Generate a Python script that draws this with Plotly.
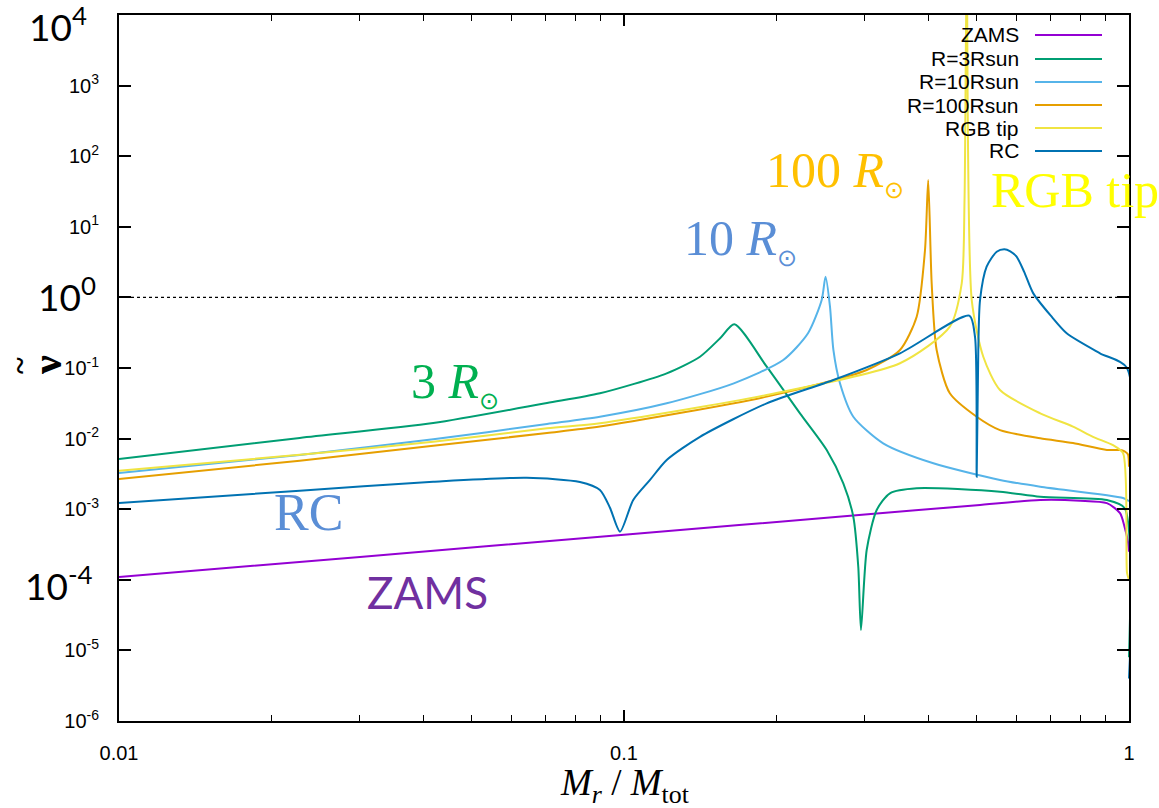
import plotly.graph_objects as go

# ---- data: dimensionless frequency nu~ versus mass coordinate M_r/M_tot ----
zams_m = [0.01, 0.03, 0.1, 0.3, 0.5, 0.667, 0.8, 0.904, 0.96, 0.98, 0.995, 1.0]
zams_nu = [1.10e-4, 2.11e-4, 4.35e-4, 8.4e-4, 1.14e-3, 1.35e-3, 1.32e-3, 1.22e-3,
           8.8e-4, 5.6e-4, 3.5e-4, 2.5e-4]

r3_m = [0.01, 0.0228, 0.0419, 0.0704, 0.0896, 0.1215, 0.1414, 0.155, 0.1654, 0.1917,
        0.2231, 0.252, 0.2718, 0.2845, 0.291, 0.2946, 0.3024, 0.3165, 0.3362, 0.3798,
        0.5553, 0.667, 0.904, 0.98, 1.0]
r3_nu = [5.14e-3, 1.02e-2, 1.66e-2, 3.19e-2, 4.38e-2, 8.41e-2, 0.1445, 0.264, 0.416, 0.1043,
         2.28e-2, 6.9e-3, 2.33e-3, 7.83e-4, 1.53e-4, 1.95e-5, 2.64e-4, 9.75e-4, 1.68e-3, 1.98e-3,
         1.77e-3, 1.50e-3, 1.35e-3, 1.04e-3, 8e-6]

r10_m = [0.01, 0.0228, 0.0419, 0.0704, 0.0896, 0.1215, 0.165, 0.2067, 0.2314, 0.2463,
         0.2507, 0.2558, 0.2598, 0.2677, 0.2845, 0.326, 0.4098, 0.5553, 0.667, 0.973, 1.0]
r10_nu = [3.26e-3, 5.86e-3, 9.77e-3, 1.61e-2, 2.04e-2, 3.16e-2, 6.07e-2, 0.1297, 0.31, 0.918,
          1.96, 0.738, 0.18, 6.07e-2, 2.04e-2, 8.57e-3, 4.47e-3, 2.6e-3, 2.08e-3, 1.44e-3, 1.3e-3]

r100_m = [0.01, 0.0228, 0.0419, 0.0704, 0.0896, 0.1917, 0.3024, 0.352, 0.3798, 0.3945,
          0.4003, 0.4067, 0.416, 0.4418, 0.4993, 0.5553, 0.667, 0.7747, 0.904, 0.96,
          0.98, 0.995, 1.0]
r100_nu = [2.68e-3, 4.86e-3, 7.94e-3, 1.2e-2, 1.48e-2, 3.93e-2, 9.38e-2, 0.18, 0.533, 4.69,
           46.0, 1.58, 0.18, 4.38e-2, 2.04e-2, 1.32e-2, 1.01e-2, 8.67e-3, 6.9e-3, 6.9e-3,
           6.6e-3, 6.0e-3, 4e-3]

tip_m = [0.01, 0.0228, 0.0419, 0.0704, 0.0896, 0.1917, 0.352, 0.4418, 0.4664, 0.4724,
         0.4772, 0.4882, 0.5146, 0.5553, 0.667, 0.7747, 0.8486, 0.9296, 0.973, 0.991, 1.0]
tip_nu = [3.5e-3, 5.9e-3, 9.0e-3, 1.4e-2, 1.65e-2, 4.15e-2, 0.1167, 0.385, 1.58, 24.0,
          5e4, 0.918, 0.1445, 4.88e-2, 2.28e-2, 1.48e-2, 1.06e-2, 8.1e-3, 6.25e-3, 1.25e-4, 1.0e-4]

rc_m = [0.01, 0.0228, 0.0419, 0.0642, 0.0818, 0.0896, 0.0938, 0.0982, 0.1043, 0.1126,
        0.1215, 0.1414, 0.1917, 0.2598, 0.352, 0.4828, 0.4955, 0.4993, 0.503, 0.507,
        0.5225, 0.547, 0.5663, 0.582, 0.599, 0.62, 0.6464, 0.7, 0.7527, 0.8762, 0.9895, 1.0]
rc_nu = [1.22e-3, 1.83e-3, 2.45e-3, 2.79e-3, 2.43e-3, 1.87e-3, 1.05e-3, 4.8e-4, 1.35e-3, 2.6e-3,
         4.98e-3, 1.06e-2, 3.16e-2, 6.76e-2, 0.1614, 0.551, 0.277, 2.88e-3, 0.18, 0.918,
         2.72, 4.43, 4.8, 4.5, 3.77, 2.3, 1.14, 0.55, 0.31, 0.1614, 0.1016, 4e-6]

series_names = ["ZAMS", "R=3Rsun", "R=10Rsun", "R=100Rsun", "RGB tip", "RC"]
series_colors = ["#9400D3", "#009E73", "#56B4E9", "#E69F00", "#F0E442", "#0072B2"]
series_data = [(zams_m, zams_nu), (r3_m, r3_nu), (r10_m, r10_nu),
               (r100_m, r100_nu), (tip_m, tip_nu), (rc_m, rc_nu)]

x_tick_vals = [0.01, 0.1, 1]
x_tick_text = ["0.01", "0.1", "1"]
x_minor_vals = [k * 0.01 for k in range(2, 10)] + [k * 0.1 for k in range(2, 10)]
y_tick_vals = [1e-6, 1e-5, 1e-4, 1e-3, 1e-2, 1e-1, 1, 10, 100, 1000, 1e4]
y_tick_text = ["10<sup>-6</sup>", "10<sup>-5</sup>", "", "10<sup>-3</sup>", "10<sup>-2</sup>",
               "10<sup>-1</sup>", "", "10<sup>1</sup>", "10<sup>2</sup>", "10<sup>3</sup>", ""]

# ---- page geometry (pixels) ----
W, H = 1159, 808
L, R, T, B = 119, 1129, 15, 721


def fx(p):
    return (p - L) / (R - L)


def fy(p):
    return (B - p) / (B - T)


fig = go.Figure()

# unit reference line
fig.add_trace(go.Scatter(x=[0.01, 1], y=[1, 1], mode="lines",
                         line=dict(color="black", width=1.2, dash="dot"),
                         showlegend=False, hoverinfo="skip"))

for name, color, (m, nu) in zip(series_names, series_colors, series_data):
    fig.add_trace(go.Scatter(x=m, y=nu, mode="lines", name=name,
                             line=dict(color=color, width=2, shape="spline", smoothing=0.7),
                             showlegend=False))

annotations = []
shapes = []

# key in the upper right corner: label then line sample
key_rows = [35, 59, 82, 105, 128, 151]
for name, color, yp in zip(series_names, series_colors, key_rows):
    annotations.append(dict(xref="paper", yref="paper", x=fx(1021), y=fy(yp),
                            xanchor="right", yanchor="middle", text=name, showarrow=False,
                            font=dict(family="Liberation Sans", size=21, color="black")))
    shapes.append(dict(type="line", xref="paper", yref="paper",
                       x0=fx(1035), x1=fx(1102), y0=fy(yp), y1=fy(yp),
                       line=dict(color=color, width=2)))

# enlarged decade labels
big_font = dict(family="Lato", size=37, color="black")
for txt, xp, yp in [("10<sup>4</sup>", 89, 24), ("10<sup>0</sup>", 98, 294),
                    ("10<sup>-4</sup>", 95, 583)]:
    annotations.append(dict(xref="paper", yref="paper", x=fx(xp), y=fy(yp),
                            xanchor="right", yanchor="middle", text=txt,
                            showarrow=False, font=big_font))

# curve labels
serif = "Liberation Serif"
sun = "<sub><span style='font-size:24px'>⊙</span></sub>"
curve_labels = [
    ("ZAMS", 427, 592, "Lato", 44, "#7030A0"),
    ("RC", 308, 512, serif, 52, "#5A8ED6"),
    ("3 <i>R</i>" + sun, 455, 383, serif, 50, "#00B050"),
    ("10 <i>R</i>" + sun, 740, 240, serif, 50, "#5A8ED6"),
    ("100 <i>R</i>" + sun, 835, 172, serif, 50, "#FFC000"),
    ("RGB tip", 1075, 190, serif, 50, "#FFFF00"),
]
for txt, xp, yp, fam, size, col in curve_labels:
    annotations.append(dict(xref="paper", yref="paper", x=fx(xp), y=fy(yp),
                            xanchor="center", yanchor="middle", text=txt, showarrow=False,
                            font=dict(family=fam, size=size, color=col)))

# axis titles
annotations.append(dict(xref="paper", yref="paper", x=fx(625), y=fy(786),
                        xanchor="center", yanchor="middle",
                        text="<i>M<sub>r</sub></i> / <i>M</i><sub>tot</sub>",
                        showarrow=False, font=dict(family=serif, size=37, color="black")))
annotations.append(dict(xref="paper", yref="paper", x=fx(47), y=fy(365),
                        xanchor="center", yanchor="middle", text="<b>ν</b>", textangle=-90,
                        showarrow=False, font=dict(family=serif, size=42, color="black")))
annotations.append(dict(xref="paper", yref="paper", x=fx(19), y=fy(366),
                        xanchor="center", yanchor="middle", text="<b>~</b>", textangle=-90,
                        showarrow=False, font=dict(family=serif, size=32, color="black")))

tick_font = dict(family="Liberation Sans", size=20, color="black")

fig.update_layout(
    width=W, height=H,
    margin=dict(l=L, r=W - R, t=T, b=H - B, pad=0),
    paper_bgcolor="white", plot_bgcolor="white",
    annotations=annotations, shapes=shapes,
    xaxis=dict(type="log", range=[-2, 0], tickvals=x_tick_vals, ticktext=x_tick_text,
               ticks="inside", ticklen=11, tickwidth=1.5, tickcolor="black",
               minor=dict(tickvals=x_minor_vals, ticks="inside", ticklen=6,
                          tickwidth=1.2, tickcolor="black", showgrid=False),
               showline=True, linecolor="black", linewidth=2, mirror="allticks",
               showgrid=False, zeroline=False, tickfont=tick_font, ticklabelstandoff=13),
    yaxis=dict(type="log", range=[-6, 4], tickvals=y_tick_vals, ticktext=y_tick_text,
               ticks="inside", ticklen=12, tickwidth=1.5, tickcolor="black",
               showline=True, linecolor="black", linewidth=2, mirror="allticks",
               showgrid=False, zeroline=False, tickfont=tick_font, ticklabelstandoff=14),
)

fig.write_html("out.html")
